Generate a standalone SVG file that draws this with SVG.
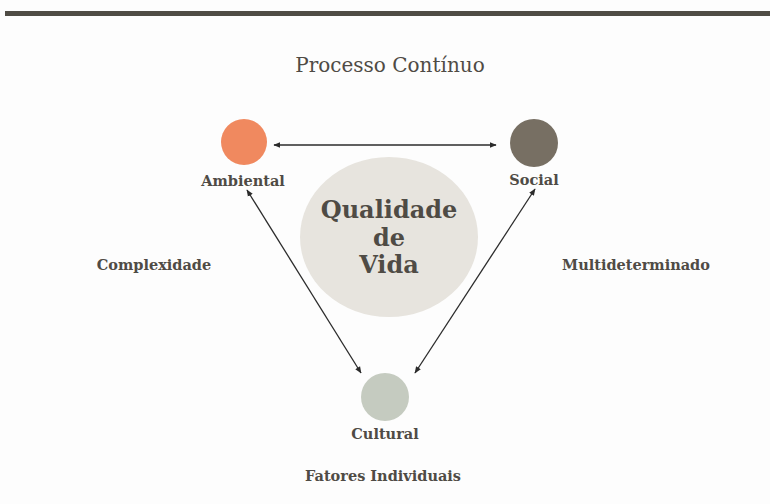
<svg xmlns="http://www.w3.org/2000/svg" width="770" height="504" viewBox="0 0 770 504">
<style>
.t{font-family:"DejaVu Serif","Liberation Serif",serif;fill:#4f4b45;text-anchor:middle}
.lbl{font-size:14.5px;font-weight:bold}
.ln{stroke:#2b2b2b;stroke-width:1.3;fill:none;marker-start:url(#ah);marker-end:url(#ah)}
</style>
<defs>
<marker id="ah" viewBox="0 0 10 10" refX="9" refY="5" markerWidth="7" markerHeight="7" orient="auto-start-reverse" markerUnits="userSpaceOnUse">
<path d="M0,1 L10,5 L0,9 z" fill="#2b2b2b"/>
</marker>
</defs>
<rect width="770" height="504" fill="#fdfdfd"/>
<rect x="5" y="11" width="765" height="5" fill="#4f4c45"/>
<text class="t" x="390" y="72" font-size="20">Processo Contínuo</text>
<g id="connectors">
<line class="ln" x1="274" y1="145" x2="496" y2="145"/>
<line class="ln" x1="247" y1="190" x2="361" y2="373"/>
<line class="ln" x1="535" y1="189" x2="415" y2="373"/>
</g>
<g id="qualidade">
<ellipse cx="389" cy="237" rx="89" ry="80" fill="#e7e4de"/>
<text class="t" x="389" y="218" font-size="24" font-weight="bold">Qualidade</text>
<text class="t" x="389" y="246" font-size="24" font-weight="bold">de</text>
<text class="t" x="389" y="273" font-size="24" font-weight="bold">Vida</text>
</g>
<g id="ambiental">
<circle cx="244" cy="142" r="23" fill="#f0895f"/>
<text class="t lbl" x="243" y="186">Ambiental</text>
</g>
<g id="social">
<circle cx="534" cy="143" r="24" fill="#776f63"/>
<text class="t lbl" x="534" y="185">Social</text>
</g>
<g id="cultural">
<circle cx="385" cy="397" r="24" fill="#c5cbc0"/>
<text class="t lbl" x="385" y="439">Cultural</text>
</g>
<g id="complexidade"><text class="t lbl" x="154" y="270">Complexidade</text></g>
<g id="multideterminado"><text class="t lbl" x="636" y="270">Multideterminado</text></g>
<g id="fatores"><text class="t lbl" x="383" y="481">Fatores Individuais</text></g>
</svg>
